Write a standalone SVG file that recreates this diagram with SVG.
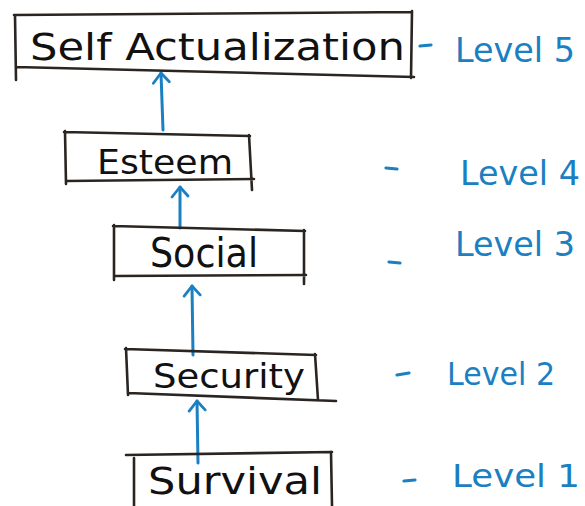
<svg xmlns="http://www.w3.org/2000/svg" width="585" height="506" viewBox="0 0 585 506">
<style>
.box{fill:none;stroke:#2b2522;stroke-width:2.6;stroke-linecap:round;stroke-linejoin:round}
.lbl{font-family:"DejaVu Sans","Liberation Sans",sans-serif;fill:#111;}
.lvl{font-family:"DejaVu Sans","Liberation Sans",sans-serif;fill:#1a80c2;}
.dash{stroke:#1a80c2;stroke-width:3.2;stroke-linecap:round}
.arr{stroke:#1a80c2;stroke-width:3;fill:none;stroke-linecap:round}
</style>
<defs>
<marker id="ah" viewBox="0 0 20 20" refX="18" refY="10" markerWidth="20" markerHeight="20" markerUnits="userSpaceOnUse" orient="auto">
<path d="M8 2 L18 10 L9 18" fill="none" stroke="#1a80c2" stroke-width="2.8" stroke-linecap="round" stroke-linejoin="round"/>
</marker>
</defs>
<rect width="585" height="506" fill="#ffffff"/>
<g id="connectors">
<line class="arr" x1="163" y1="130" x2="161" y2="73" marker-end="url(#ah)"/>
<line class="arr" x1="180" y1="228" x2="180" y2="187" marker-end="url(#ah)"/>
<line class="arr" x1="193" y1="355" x2="192" y2="286" marker-end="url(#ah)"/>
<line class="arr" x1="198" y1="463" x2="197" y2="401" marker-end="url(#ah)"/>
</g>
<g id="n5">
<path class="box" d="M14 15 L412 12 M15 15 L16 80 M412 11 L411 78 M16 67 L414 77"/>
<text class="lbl" x="30" y="60" font-size="38" textLength="375" lengthAdjust="spacingAndGlyphs">Self Actualization</text>
<line class="dash" x1="420" y1="46" x2="431" y2="45"/>
<text class="lvl" x="455" y="62" font-size="34" textLength="120" lengthAdjust="spacingAndGlyphs">Level 5</text>
</g>
<g id="n4">
<path class="box" d="M64 132 L250 136 M65 131 L66 184 M249 135 L252 190 M66 181 L254 179"/>
<text class="lbl" x="97" y="174" font-size="34" textLength="136" lengthAdjust="spacingAndGlyphs">Esteem</text>
<line class="dash" x1="386" y1="168" x2="397" y2="169"/>
<text class="lvl" x="460" y="185" font-size="34" textLength="120" lengthAdjust="spacingAndGlyphs">Level 4</text>
</g>
<g id="n3">
<path class="box" d="M113 226 L305 231 M114 225 L114 280 M304 230 L304 284 M114 276 L306 275"/>
<text class="lbl" x="150" y="267" font-size="40" textLength="108" lengthAdjust="spacingAndGlyphs">Social</text>
<line class="dash" x1="389" y1="262" x2="400" y2="263"/>
<text class="lvl" x="455" y="256" font-size="34" textLength="120" lengthAdjust="spacingAndGlyphs">Level 3</text>
</g>
<g id="n2">
<path class="box" d="M125 349 L316 355 M126 348 L128 395 M315 354 L318 400 M128 393 L336 401"/>
<text class="lbl" x="153" y="388" font-size="34" textLength="152" lengthAdjust="spacingAndGlyphs">Security</text>
<line class="dash" x1="397" y1="375" x2="409" y2="373"/>
<text class="lvl" x="447" y="385" font-size="32" textLength="108" lengthAdjust="spacingAndGlyphs">Level 2</text>
</g>
<g id="n1">
<path class="box" d="M126 455 L332 452 M134 458 L134 506 M331 452 L332 506"/>
<text class="lbl" x="148" y="494" font-size="38" textLength="174" lengthAdjust="spacingAndGlyphs">Survival</text>
<line class="dash" x1="404" y1="481" x2="415" y2="480"/>
<text class="lvl" x="452" y="487" font-size="32" textLength="128" lengthAdjust="spacingAndGlyphs">Level 1</text>
</g>
</svg>
